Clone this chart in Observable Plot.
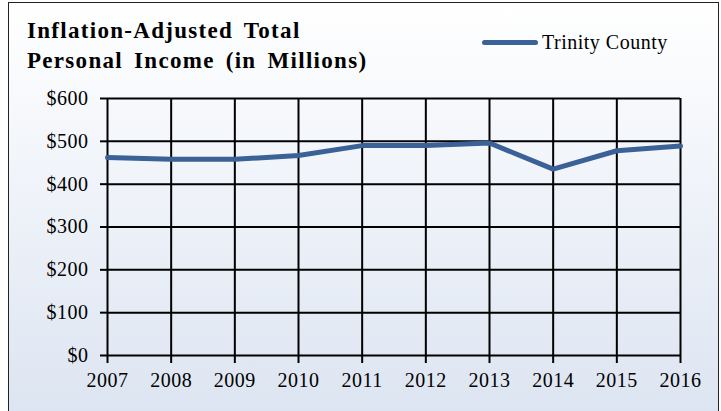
<!DOCTYPE html>
<html><head><meta charset="utf-8">
<script src="https://cdn.jsdelivr.net/npm/d3@7"></script>
<script src="https://cdn.jsdelivr.net/npm/@observablehq/plot@0.6"></script>
<style>
body{margin:0;background:#fff;}
#wrap{position:relative;width:721px;height:411px;overflow:hidden;}
#frame{position:absolute;left:8px;top:2px;width:711px;height:420px;border:1.5px solid #222;box-sizing:border-box;background:linear-gradient(#ffffff,#dde5f2 97%);}
#title{position:absolute;left:27px;top:16px;font:bold 23px "Liberation Serif";line-height:30px;color:#000;letter-spacing:1.3px;word-spacing:4px;}
#legend{position:absolute;left:482px;top:31px;font:20px "Liberation Serif";letter-spacing:0.5px;color:#000;display:flex;align-items:center;}
#legend .sw{width:56px;height:5px;border-radius:3px;background:#3a6296;margin-right:4px;}
#chart{position:absolute;left:0;top:0;}
#chart svg, #chart svg text{font-family:"Liberation Serif", serif !important;font-weight:400 !important;letter-spacing:0.5px;stroke:none;}
</style></head>
<body>
<div id="wrap">
<div id="frame"></div>
<div id="title">Inflation-Adjusted Total<br>Personal Income (in Millions)</div>
<div id="legend"><div class="sw"></div><span>Trinity County</span></div>
<div id="chart"></div>
</div>
<script>
const years = [2007, 2008, 2009, 2010, 2011, 2012, 2013, 2014, 2015, 2016];
const income = [462, 458, 458, 467, 490, 490, 496, 435, 478, 489];
const yTicks = [0, 100, 200, 300, 400, 500, 600];
const seriesName = "Trinity County";

const data = years.map((y, i) => ({year: y, value: income[i], series: seriesName}));

const chart = Plot.plot({
  width: 721,
  height: 411,
  marginLeft: 107,
  marginRight: 41,
  marginTop: 98,
  marginBottom: 56,
  style: {background: "transparent", fontFamily: "'Liberation Serif', serif", fontSize: "20px", color: "#000"},
  x: {domain: [2007, 2016], ticks: years, tickFormat: d => String(d)},
  y: {domain: [0, 600], ticks: yTicks},
  marks: [
    Plot.gridY(yTicks, {stroke: "#000", strokeOpacity: 1, strokeWidth: 2}),
    Plot.gridX(years, {stroke: "#000", strokeOpacity: 1, strokeWidth: 2}),
    Plot.axisY(yTicks, {tickSize: 7, tickPadding: 12, strokeWidth: 2, color: "#000", fontSize: 20, fontWeight: "normal", textStroke: "none", tickFormat: d => "$" + d, label: null}),
    Plot.axisX(years, {tickSize: 8, tickPadding: 9, strokeWidth: 2, color: "#000", fontSize: 20, fontWeight: "normal", textStroke: "none", tickFormat: d => String(d), label: null}),
    Plot.line(data, {x: "year", y: "value", stroke: "#3a6296", strokeWidth: 5, strokeLinejoin: "miter"})
  ]
});
document.getElementById("chart").appendChild(chart);
</script>
</body></html>
